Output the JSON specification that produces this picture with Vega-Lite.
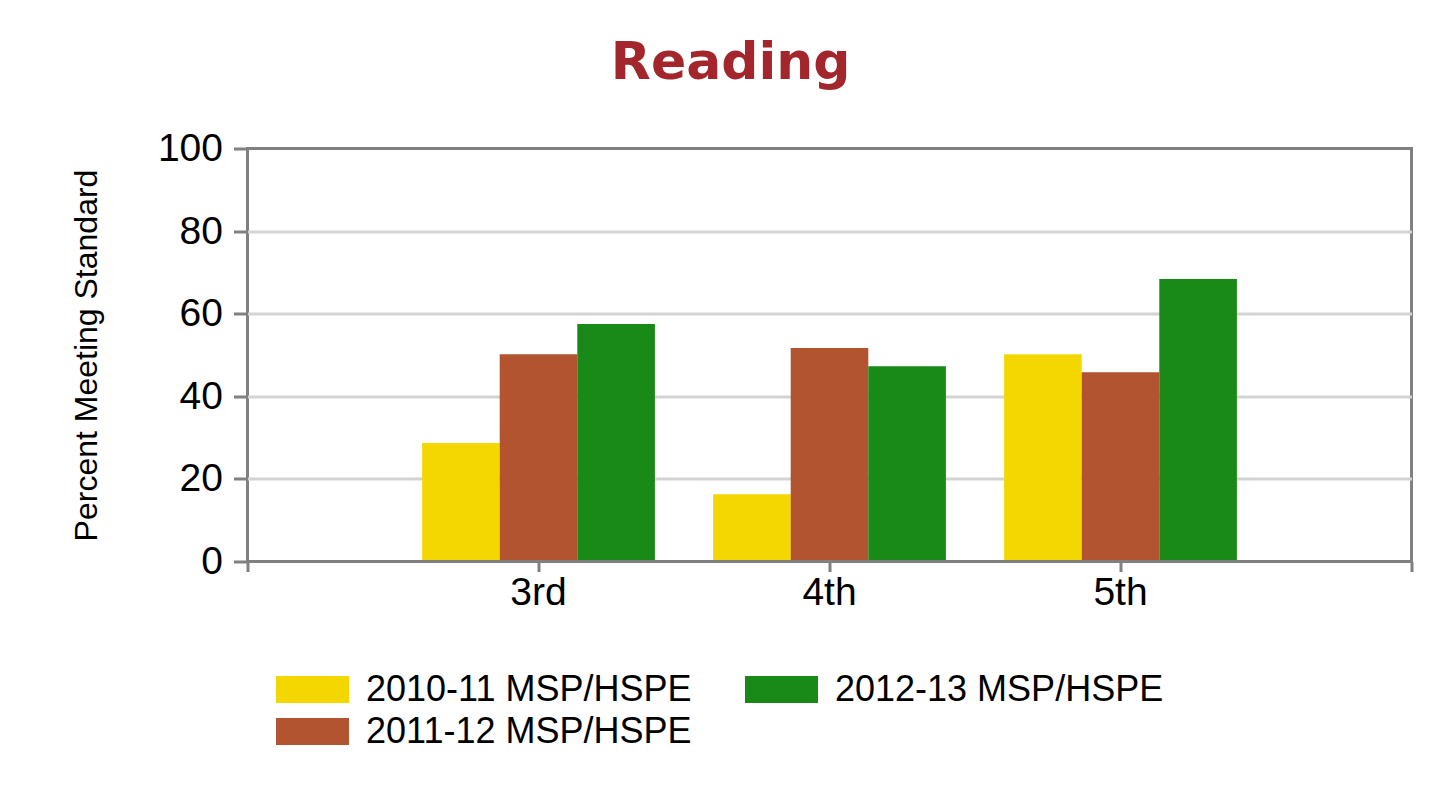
{
  "$schema": "https://vega.github.io/schema/vega-lite/v6.json",
  "autosize": {"type": "none"},
  "width": 1164,
  "height": 413,
  "padding": {"left": 247.5, "top": 148.5, "right": 26.5, "bottom": 236.5},
  "background": "white",
  "config": {
    "view": {"stroke": "#808080", "strokeWidth": 3},
    "font": "Liberation Sans"
  },
  "title": {
    "text": "Reading",
    "font": "DejaVu Sans",
    "fontSize": 52,
    "fontWeight": "bold",
    "color": "#a3262c",
    "anchor": "middle",
    "frame": "bounds",
    "offset": 40,
    "dx": -11
  },
  "data": {
    "values": [
      {"grade": "3rd", "year": "2010-11 MSP/HSPE", "value": 28.7},
      {"grade": "3rd", "year": "2011-12 MSP/HSPE", "value": 50.2},
      {"grade": "3rd", "year": "2012-13 MSP/HSPE", "value": 57.5},
      {"grade": "4th", "year": "2010-11 MSP/HSPE", "value": 16.3},
      {"grade": "4th", "year": "2011-12 MSP/HSPE", "value": 51.7},
      {"grade": "4th", "year": "2012-13 MSP/HSPE", "value": 47.3},
      {"grade": "5th", "year": "2010-11 MSP/HSPE", "value": 50.2},
      {"grade": "5th", "year": "2011-12 MSP/HSPE", "value": 45.8},
      {"grade": "5th", "year": "2012-13 MSP/HSPE", "value": 68.4}
    ]
  },
  "layer": [
    {
      "mark": {"type": "bar"},
      "encoding": {
        "x": {
          "field": "grade",
          "type": "nominal",
          "scale": {"paddingInner": 0.2, "paddingOuter": 0.6},
          "axis": {
            "orient": "bottom",
            "title": null,
            "labelAngle": 0,
            "domain": false,
            "grid": false,
            "ticks": true,
            "tickSize": 10,
            "tickWidth": 3,
            "tickColor": "#808080",
            "labelFont": "Liberation Sans",
            "labelFontSize": 39,
            "labelColor": "#000000",
            "labelPadding": 2
          }
        },
        "xOffset": {"field": "year", "type": "nominal"},
        "y": {
          "field": "value",
          "type": "quantitative",
          "scale": {"domain": [0, 100], "nice": false},
          "axis": {
            "values": [0, 20, 40, 60, 80, 100],
            "domain": false,
            "tickSize": 14,
            "tickWidth": 3,
            "tickColor": "#808080",
            "grid": true,
            "gridColor": "#d3d3d3",
            "gridWidth": 3,
            "gridOpacity": {"condition": {"test": "datum.value == 0 || datum.value == 100", "value": 0}, "value": 1},
            "labelFont": "Liberation Sans",
            "labelFontSize": 39,
            "labelColor": "#000000",
            "labelPadding": 11,
            "title": "Percent Meeting Standard",
            "titleFont": "Liberation Sans",
            "titleFontSize": 32,
            "titleFontWeight": "normal",
            "titleColor": "#000000",
            "titlePadding": 54
          }
        },
        "color": {
          "field": "year",
          "type": "nominal",
          "scale": {
            "domain": ["2010-11 MSP/HSPE", "2011-12 MSP/HSPE", "2012-13 MSP/HSPE"],
            "range": ["#f5d700", "#b35430", "#198917"]
          },
          "legend": {
            "orient": "none",
            "legendX": 28.5,
            "legendY": 520,
            "title": null,
            "padding": 0,
            "columns": 2,
            "columnPadding": 53,
            "rowPadding": 0,
            "clipHeight": 42,
            "symbolType": "M-1,-0.37H1V0.37H-1Z",
            "symbolSize": 5329,
            "symbolStrokeWidth": 0,
            "symbolOpacity": 1,
            "labelOffset": 17,
            "labelFont": "Liberation Sans",
            "labelFontSize": 36,
            "labelColor": "#000000",
            "labelLimit": 0
          }
        }
      }
    },
    {
      "data": {"values": [{"edge": "baseline"}]},
      "mark": {"type": "rule", "color": "#808080", "strokeWidth": 3},
      "encoding": {
        "x": {
          "datum": 0,
          "type": "quantitative",
          "scale": {"domain": [0, 4], "nice": false},
          "axis": {
            "orient": "bottom",
            "values": [0, 4],
            "labels": false,
            "title": null,
            "domain": false,
            "grid": false,
            "ticks": true,
            "tickSize": 10,
            "tickWidth": 3,
            "tickColor": "#808080"
          }
        },
        "x2": {"datum": 4},
        "y": {"datum": 0}
      }
    }
  ],
  "resolve": {"scale": {"x": "independent"}, "axis": {"x": "independent"}}
}
